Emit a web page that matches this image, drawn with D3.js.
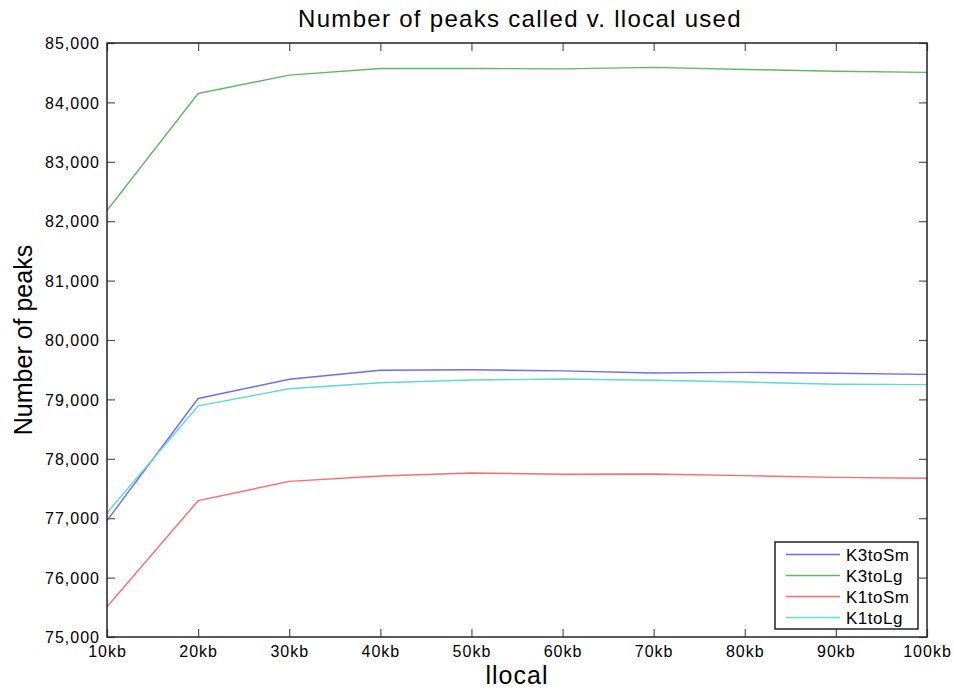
<!DOCTYPE html>
<html>
<head>
<meta charset="utf-8">
<script src="https://cdn.jsdelivr.net/npm/d3@7"></script>
<style>
  html, body { margin: 0; padding: 0; background: #fff; }
  svg { display: block; font-family: "Liberation Sans", Arial, Helvetica, sans-serif; }
</style>
</head>
<body>
<svg id="chart" width="954" height="692"></svg>
<script>
// llocal window sizes tested
const categories = ["10kb", "20kb", "30kb", "40kb", "50kb", "60kb", "70kb", "80kb", "90kb", "100kb"];

// peak counts per run
const k3toSm = [76960, 79015, 79340, 79490, 79500, 79480, 79445, 79455, 79440, 79422];
const k3toLg = [82180, 84150, 84460, 84570, 84570, 84565, 84590, 84555, 84525, 84505];
const k1toSm = [75510, 77295, 77620, 77710, 77760, 77740, 77745, 77716, 77688, 77672];
const k1toLg = [77090, 78890, 79180, 79280, 79327, 79343, 79322, 79293, 79254, 79248];

const yTicks = [75000, 76000, 77000, 78000, 79000, 80000, 81000, 82000, 83000, 84000, 85000];

const seriesNames = ["K3toSm", "K3toLg", "K1toSm", "K1toLg"];
const seriesColors = ["#6a6aff", "#62b862", "#ff6a6a", "#5ed8d8"];
const series = [k3toSm, k3toLg, k1toSm, k1toLg].map((values, i) => ({
  name: seriesNames[i], color: seriesColors[i], values
}));

const svg = d3.select("#chart");
const margin = { left: 107, right: 27, top: 43, bottom: 55 };
const W = 954, H = 692;
const iw = W - margin.left - margin.right;
const ih = H - margin.top - margin.bottom;

const x = d3.scalePoint().domain(categories).range([0, iw]);
const y = d3.scaleLinear().domain([75000, 85000]).range([ih, 0]);

const g = svg.append("g").attr("transform", `translate(${margin.left},${margin.top})`);

const fmt = d3.format(",");
const tickLen = 8;

// bottom axis with labels, ticks pointing inward
const xAxis = g.append("g").attr("transform", `translate(0,${ih})`)
  .call(d3.axisBottom(x).tickSize(-tickLen).tickPadding(tickLen + 12));
// left axis with labels
const yAxis = g.append("g")
  .call(d3.axisLeft(y).tickValues(yTicks).tickFormat(fmt).tickSize(-tickLen).tickPadding(7));
// mirrored ticks on top and right
const xTop = g.append("g").call(d3.axisTop(x).tickSize(-tickLen).tickFormat(""));
const yRight = g.append("g").attr("transform", `translate(${iw},0)`)
  .call(d3.axisRight(y).tickValues(yTicks).tickSize(-tickLen).tickFormat(""));

[xAxis, yAxis, xTop, yRight].forEach(a => {
  a.select(".domain").remove();
  a.selectAll(".tick line").attr("stroke", "#555").attr("stroke-width", 1.2);
  a.selectAll(".tick text").attr("fill", "#000").attr("font-size", 16)
    .style("letter-spacing", "1px");
});
xAxis.selectAll(".tick text").attr("dy", "0");
yAxis.selectAll(".tick text").attr("dy", "0.36em");

// data lines
const line = d3.line()
  .x((d, i) => x(categories[i]))
  .y(d => y(d));

g.append("g").selectAll("path").data(series).join("path")
  .attr("d", d => line(d.values))
  .attr("fill", "none")
  .attr("stroke", d => d.color)
  .attr("stroke-width", 1.4)
  .attr("stroke-linejoin", "round");

// plot frame
g.append("rect")
  .attr("x", 0).attr("y", 0).attr("width", iw).attr("height", ih)
  .attr("fill", "none").attr("stroke", "#222").attr("stroke-width", 1.5);

// title and axis labels
svg.append("text")
  .attr("x", margin.left + iw / 2 + 3).attr("y", 27)
  .attr("text-anchor", "middle").attr("font-size", 24)
  .style("letter-spacing", "1.3px")
  .text("Number of peaks called v. llocal used");

svg.append("text")
  .attr("transform", `translate(32,${margin.top + ih / 2}) rotate(-90)`)
  .attr("text-anchor", "middle").attr("font-size", 25)
  .text("Number of peaks");

svg.append("text")
  .attr("x", margin.left + iw / 2).attr("y", 684)
  .attr("text-anchor", "middle").attr("font-size", 25)
  .style("letter-spacing", "1px")
  .text("llocal");

// legend
const lg = svg.append("g").attr("transform", "translate(775,542)");
lg.append("rect").attr("width", 143).attr("height", 87)
  .attr("fill", "#fff").attr("stroke", "#222").attr("stroke-width", 1.5);
const rows = lg.selectAll("g.row").data(series).join("g")
  .attr("class", "row")
  .attr("transform", (d, i) => `translate(0,${12.5 + i * 21})`);
rows.append("line")
  .attr("x1", 11).attr("x2", 65)
  .attr("stroke", d => d.color).attr("stroke-width", 1.4);
rows.append("text")
  .attr("x", 71).attr("dy", "0.36em")
  .attr("font-size", 17).style("letter-spacing", "0.5px")
  .text(d => d.name);
</script>
</body>
</html>
